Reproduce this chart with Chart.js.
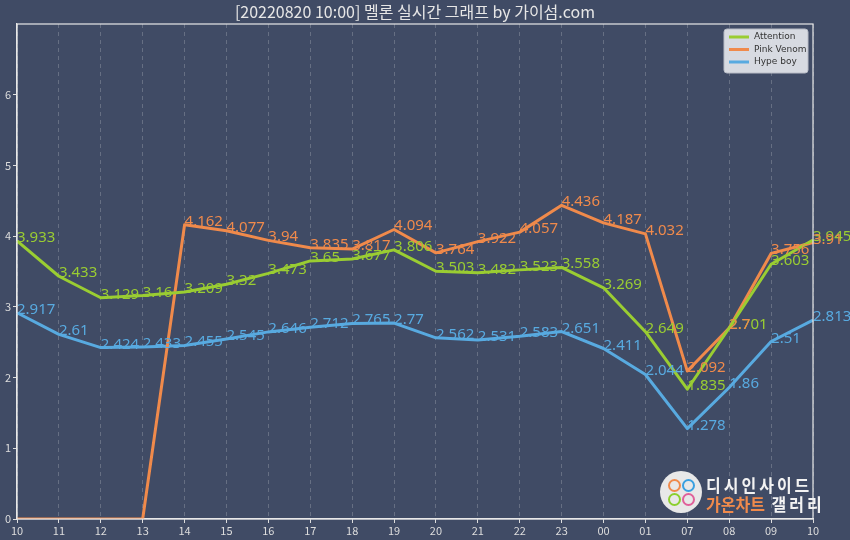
<!DOCTYPE html>
<html>
<head>
<meta charset="utf-8">
<script src="https://cdn.jsdelivr.net/npm/chart.js@4"></script>
<style>
  body { margin: 0; background: #404b65; }
  .wrap { position: relative; width: 850px; height: 540px; }
  .logo { position: absolute; left: 660px; top: 471px; width: 42px; height: 42px; border-radius: 50%; background: #e8e8e8; }
  .logo span { position: absolute; width: 9px; height: 9px; border-radius: 50%; border: 2px solid; }
  .logo-text { position: absolute; left: 706px; top: 474px; font-family: "Noto Sans CJK KR"; font-weight: bold; font-size: 16px; line-height: 18px; color: #f2f2f2; letter-spacing: 3px; transform: scaleY(1.1); transform-origin: top left; }
  .logo-text .o { color: #f08a4b; letter-spacing: 0; }
</style>
</head>
<body>
<div class="wrap">
  <canvas id="melon_chart" width="850" height="540"></canvas>
  <div class="logo">
    <span style="left:8px;top:8px;border-color:#f08a4b"></span>
    <span style="left:22px;top:8px;border-color:#3aa0e0"></span>
    <span style="left:8px;top:22px;border-color:#8ccf2e"></span>
    <span style="left:22px;top:22px;border-color:#e0609a"></span>
  </div>
  <div class="logo-text">디시인사이드<br><span class="o">가온차트</span> 갤러리</div>
</div>
<script>
const hours = ["10", "11", "12", "13", "14", "15", "16", "17", "18", "19", "20", "21", "22", "23", "00", "01", "07", "08", "09", "10"];
const attention = [3.933, 3.433, 3.129, 3.16, 3.209, 3.32, 3.473, 3.65, 3.677, 3.806, 3.503, 3.482, 3.523, 3.558, 3.269, 2.649, 1.835, 2.701, 3.603, 3.945];
const pinkVenom = [0, 0, 0, 0, 4.162, 4.077, 3.94, 3.835, 3.817, 4.094, 3.764, 3.922, 4.057, 4.436, 4.187, 4.032, 2.092, 2.7, 3.756, 3.91];
const hypeBoy = [2.917, 2.61, 2.424, 2.433, 2.455, 2.545, 2.646, 2.712, 2.765, 2.77, 2.562, 2.531, 2.583, 2.651, 2.411, 2.044, 1.278, 1.86, 2.51, 2.813];
const yTicks = [0, 1, 2, 3, 4, 5, 6];

const colors = ["#9acd32", "#f08a4b", "#58aae0"];

// value labels next to each point, skip the zeros
const valueLabels = {
    id: "valueLabels",
    afterDatasetsDraw(chart) {
        const ctx = chart.ctx;
        ctx.save();
        ctx.font = "15px 'Noto Sans'";
        ctx.textAlign = "left";
        ctx.textBaseline = "alphabetic";
        chart.data.datasets.forEach((ds, i) => {
            const meta = chart.getDatasetMeta(i);
            ctx.fillStyle = ds.borderColor;
            meta.data.forEach((pt, j) => {
                if (ds.data[j] === 0) return;
                ctx.fillText(String(ds.data[j]), pt.x, pt.y + 1);
            });
        });
        ctx.restore();
    },
};

// title, box around plot, legend with background
const frame = {
    id: "frame",
    beforeDraw(chart) {
        const ctx = chart.ctx;
        ctx.save();
        ctx.fillStyle = "#404b65";
        ctx.fillRect(0, 0, chart.width, chart.height);
        ctx.restore();
    },
    afterDraw(chart) {
        const ctx = chart.ctx;
        const a = chart.chartArea;
        ctx.save();
        ctx.strokeStyle = "#e8e8e8";
        ctx.lineWidth = 1.2;
        ctx.strokeRect(a.left, a.top, a.right - a.left, a.bottom - a.top);

        ctx.fillStyle = "#e6e6e6";
        ctx.font = "16px 'Noto Sans CJK KR'";
        ctx.textAlign = "center";
        ctx.textBaseline = "middle";
        ctx.fillText("[20220820 10:00] 멜론 실시간 그래프 by 가이섬.com", 415, 12);

        // legend
        const lx = 724, ly = 29, lw = 84, lh = 44;
        ctx.fillStyle = "rgba(228,230,236,0.92)";
        ctx.strokeStyle = "#b8bcc6";
        ctx.lineWidth = 1;
        ctx.beginPath();
        ctx.roundRect(lx, ly, lw, lh, 3);
        ctx.fill();
        ctx.stroke();
        ctx.font = "9px 'DejaVu Sans'";
        ctx.textAlign = "left";
        chart.data.datasets.forEach((ds, i) => {
            const y = ly + 8 + i * 12.5;
            ctx.strokeStyle = ds.borderColor;
            ctx.lineWidth = 3;
            ctx.beginPath();
            ctx.moveTo(lx + 5, y);
            ctx.lineTo(lx + 25, y);
            ctx.stroke();
            ctx.fillStyle = "#333";
            ctx.fillText(ds.label, lx + 30, y);
        });
        ctx.restore();
    },
};

new Chart(document.getElementById("melon_chart"), {
    type: "line",
    data: {
        labels: hours,
        datasets: [
            { label: "Attention", data: attention, borderColor: colors[0] },
            { label: "Pink Venom", data: pinkVenom, borderColor: colors[1] },
            { label: "Hype boy", data: hypeBoy, borderColor: colors[2] },
        ],
    },
    options: {
        responsive: false,
        animation: false,
        layout: { padding: { left: 0, right: 37, top: 24, bottom: 0 } },
        elements: {
            line: { borderWidth: 3, tension: 0, borderJoinStyle: "round" },
            point: { radius: 0 },
        },
        plugins: {
            legend: { display: false },
            tooltip: { enabled: false },
        },
        scales: {
            x: {
                offset: false,
                afterFit: (s) => { s.height = 21; },
                border: { color: "#e8e8e8", width: 1.2, dash: [4, 4] },
                grid: {
                    color: "rgba(255,255,255,0.2)",
                    tickColor: "#dddddd",
                    tickLength: 4,
                    tickBorderDash: [],
                },
                ticks: {
                    color: "#dddddd",
                    font: { family: "Noto Sans CJK KR", size: 11 },
                    padding: 1,
                    maxRotation: 0,
                    autoSkip: false,
                },
            },
            y: {
                min: 0,
                max: 7,
                afterFit: (s) => { s.width = 17; },
                afterBuildTicks: (s) => { s.ticks = yTicks.map((v) => ({ value: v })); },
                border: { color: "#e8e8e8", width: 1.2 },
                grid: {
                    drawOnChartArea: false,
                    tickColor: "#dddddd",
                    tickLength: 4,
                },
                ticks: {
                    color: "#dddddd",
                    font: { family: "Noto Sans CJK KR", size: 11 },
                    padding: 2,
                },
            },
        },
    },
    plugins: [frame, valueLabels],
});
</script>
</body>
</html>
